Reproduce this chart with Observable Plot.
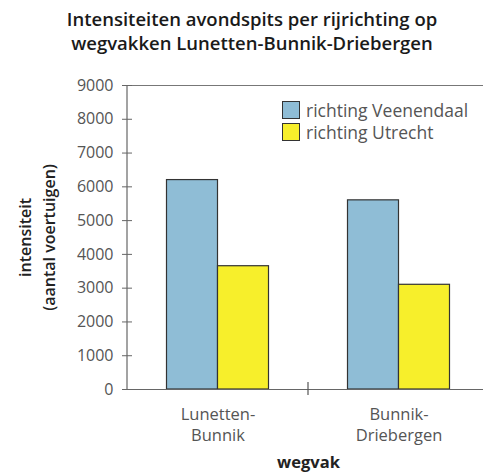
<!DOCTYPE html>
<html>
<head>
<meta charset="utf-8">
<script src="https://cdn.jsdelivr.net/npm/d3@7"></script>
<script src="https://cdn.jsdelivr.net/npm/@observablehq/plot@0.6"></script>
<style>
  html, body { margin: 0; padding: 0; background: #fff; }
  #wrap { position: relative; width: 483px; height: 472px; overflow: hidden; font-family: "Open Sans", "Noto Sans", sans-serif; }
  #title { padding: 7px 0 11px 21px; height: 48px; text-align: center; font-size: 18.5px; font-weight: 600; line-height: 24px; color: #1a1a1a; white-space: nowrap; }
  #legend { position: absolute; left: 282px; top: 99px; font-size: 17.5px; color: #555; line-height: 22px; white-space: nowrap; }
  #legend .row { display: flex; align-items: center; height: 22px; }
  #legend .sw { width: 18px; height: 18px; border: 1.5px solid #333; box-sizing: border-box; margin-right: 6px; }
</style>
</head>
<body>
<div id="wrap">
  <div id="title">Intensiteiten avondspits per rijrichting op<br>wegvakken Lunetten-Bunnik-Driebergen</div>
  <div id="chart"></div>
  <div id="legend"></div>
</div>
<script>
const categories = ["Lunetten-Bunnik", "Bunnik-Driebergen"];
const tickLabels = ["Lunetten-\nBunnik", "Bunnik-\nDriebergen"];
const seriesNames = ["richting Veenendaal", "richting Utrecht"];
const veenendaal = [6200, 5600];
const utrecht = [3650, 3100];
const yTicks = [0, 1000, 2000, 3000, 4000, 5000, 6000, 7000, 8000, 9000];
const colors = ["#8fbdd6", "#f7ef2b"];

const dataV = categories.map((c, i) => ({cat: c, value: veenendaal[i]}));
const dataU = categories.map((c, i) => ({cat: c, value: utrecht[i]}));

const font = '"Open Sans", "Noto Sans", sans-serif';

const extras = (index, scales, values, dim) => {
  const g = d3.create("svg:g");
  const x0 = dim.marginLeft;
  const yTop = dim.marginTop, yBot = dim.height - dim.marginBottom;
  g.append("line").attr("x1", x0).attr("x2", x0).attr("y1", yTop).attr("y2", yBot)
    .attr("stroke", "#666").attr("stroke-width", 1.2);
  const xb = scales.x(categories[1]);
  g.append("line").attr("x1", xb).attr("x2", xb).attr("y1", yBot - 7).attr("y2", yBot + 6)
    .attr("stroke", "#555").attr("stroke-width", 1.2);
  return g.node();
};

const plot = Plot.plot({
  width: 483,
  height: 406,
  marginLeft: 127,
  marginRight: -6,
  marginTop: 19,
  marginBottom: 83,
  style: {fontFamily: font, fontSize: "16px", color: "#555", background: "#fff"},
  x: {domain: categories, padding: 0, label: null},
  y: {domain: [0, 9000], label: null},
  marks: [
    Plot.ruleY([9000], {stroke: "#777", strokeWidth: 1.2}),
    Plot.barY(dataV, {x: "cat", y: "value", fill: colors[0], stroke: "#333", strokeWidth: 1.2, insetLeft: 39.5, insetRight: 90.5}),
    Plot.barY(dataU, {x: "cat", y: "value", fill: colors[1], stroke: "#333", strokeWidth: 1.2, insetLeft: 90.5, insetRight: 39.5}),
    Plot.ruleY([0], {stroke: "#666", strokeWidth: 1.2}),
    extras,
    Plot.axisY({ticks: yTicks, tickSize: 10, dx: 5, text: null, stroke: "#666", label: null}),
    Plot.axisY({ticks: yTicks, tickSize: 0, tickPadding: 14, tickFormat: d => String(d), fill: "#555", fontSize: 16, label: null}),
    Plot.axisX({tickSize: 0, tickPadding: 15, tickFormat: (d) => tickLabels[categories.indexOf(d)], fill: "#555", fontSize: 16.5, lineHeight: 1.3, label: null}),
    Plot.text(["wegvak"], {frameAnchor: "bottom", text: d => d, dy: 78, lineAnchor: "bottom", fontSize: 16.5, fontWeight: 700, fill: "#222"}),
    Plot.text(["intensiteit\n(aantal voertuigen)"], {frameAnchor: "left", textAnchor: "middle", text: d => d, rotate: -90, dx: -92, lineAnchor: "middle", fontSize: 16, fontWeight: 600, fill: "#222", lineHeight: 1.45})
  ]
});
document.getElementById("chart").appendChild(plot);

const legend = document.getElementById("legend");
seriesNames.forEach((name, i) => {
  const row = document.createElement("div");
  row.className = "row";
  const sw = document.createElement("span");
  sw.className = "sw";
  sw.style.background = colors[i];
  const t = document.createElement("span");
  t.textContent = name;
  row.appendChild(sw);
  row.appendChild(t);
  legend.appendChild(row);
});
</script>
</body>
</html>
